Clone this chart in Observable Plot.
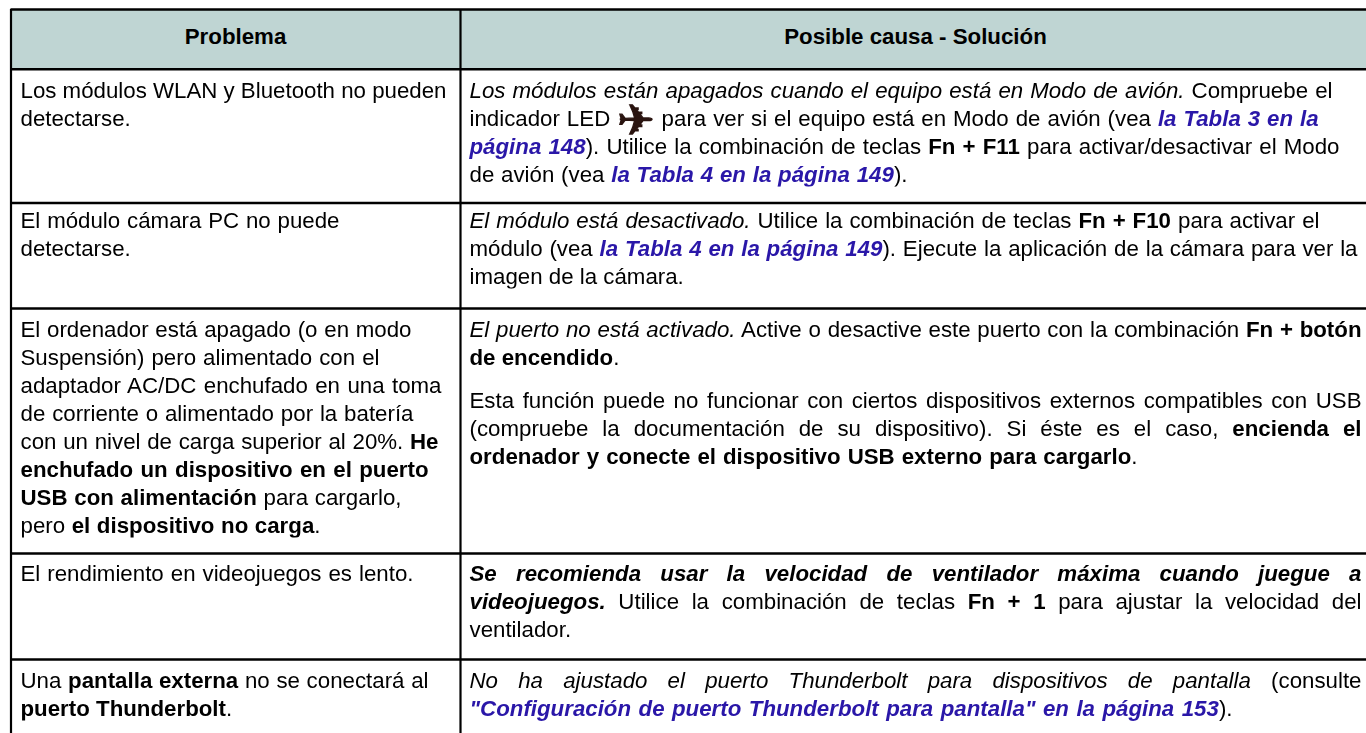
<!DOCTYPE html>
<html><head><meta charset="utf-8">
<script src="https://cdn.jsdelivr.net/npm/d3@7"></script>
<script src="https://cdn.jsdelivr.net/npm/@observablehq/plot@0.6"></script>
<style>html,body{margin:0;padding:0;background:#fff;overflow:hidden} svg{filter:blur(0.35px)}</style>
</head><body><div id="c"></div>
<script>
const headers = ["Problema", "Posible causa - Solución"];
const rowEdges = [9, 68.7, 202.5, 308, 553, 659];
const columnEdges = [10.5, 460];
const firstBaselines = [97, 227, 336, 580, 687];
const lineStep = 28;

// [row, line slot, right end of the line as read (0 = natural), runs...]; run = [style, text]
const problemLines = [
  [0, 0, 446, ["n","Los módulos WLAN y Bluetooth no pueden"]],
  [0, 1, 0, ["n","detectarse."]],
  [1, 0, 339, ["n","El módulo cámara PC no puede"]],
  [1, 1, 0, ["n","detectarse."]],
  [2, 0, 411, ["n","El ordenador está apagado (o en modo"]],
  [2, 1, 379, ["n","Suspensión) pero alimentado con el"]],
  [2, 2, 441, ["n","adaptador AC/DC enchufado en una toma"]],
  [2, 3, 413, ["n","de corriente o alimentado por la batería"]],
  [2, 4, 438, ["n","con un nivel de carga superior al 20%. "],["b","He"]],
  [2, 5, 428, ["b","enchufado un dispositivo en el puerto"]],
  [2, 6, 401, ["b","USB con alimentación"],["n"," para cargarlo,"]],
  [2, 7, 320, ["n","pero "],["b","el dispositivo no carga"],["n","."]],
  [3, 0, 413, ["n","El rendimiento en videojuegos es lento."]],
  [4, 0, 428, ["n","Una "],["b","pantalla externa"],["n"," no se conectará al"]],
  [4, 1, 0, ["b","puerto Thunderbolt"],["n","."]]
];
const solutionLines = [
  [0, 0, 1332, ["i","Los módulos están apagados cuando el equipo está en Modo de avión."],["n"," Compruebe el"]],
  [0, 1, 1318, ["n","indicador LED "],["p","✈"],["n"," para ver si el equipo está en Modo de avión (vea "],["l","la Tabla 3 en la"]],
  [0, 2, 1339, ["l","página 148"],["n","). Utilice la combinación de teclas "],["b","Fn + F11"],["n"," para activar/desactivar el Modo"]],
  [0, 3, 907, ["n","de avión (vea "],["l","la Tabla 4 en la página 149"],["n",")."]],
  [1, 0, 1319, ["i","El módulo está desactivado."],["n"," Utilice la combinación de teclas "],["b","Fn + F10"],["n"," para activar el"]],
  [1, 1, 1357, ["n","módulo (vea "],["l","la Tabla 4 en la página 149"],["n","). Ejecute la aplicación de la cámara para ver la"]],
  [1, 2, 0, ["n","imagen de la cámara."]],
  [2, 0, 1361, ["i","El puerto no está activado."],["n"," Active o desactive este puerto con la combinación "],["b","Fn + botón"]],
  [2, 1, 0, ["b","de encendido"],["n","."]],
  [2, 2.55, 1361, ["n","Esta función puede no funcionar con ciertos dispositivos externos compatibles con USB"]],
  [2, 3.55, 1361, ["n","(compruebe la documentación de su dispositivo). Si éste es el caso, "],["b","encienda el"]],
  [2, 4.55, 1137, ["b","ordenador y conecte el dispositivo USB externo para cargarlo"],["n","."]],
  [3, 0, 1361, ["bi","Se recomienda usar la velocidad de ventilador máxima cuando juegue a"]],
  [3, 1, 1361, ["bi","videojuegos."],["n"," Utilice la combinación de teclas "],["b","Fn + 1"],["n"," para ajustar la velocidad del"]],
  [3, 2, 0, ["n","ventilador."]],
  [4, 0, 1361, ["i","No ha ajustado el puerto Thunderbolt para dispositivos de pantalla"],["n"," (consulte"]],
  [4, 1, 1232, ["l","\"Configuración de puerto Thunderbolt para pantalla\" en la página 153"],["n",")."]]
];

const headFill = "#bfd5d3", ink = "#000", linkInk = "#2a17a8", planeInk = "#2a1410";
const fontSize = 21.5, stretch = 1.037, textLeft = [20, 469];
const planeSize = 43, planeAdvance = 36, planeExtra = 6, planeDrop = 9;
const styles = {
  n:{}, i:{"font-style":"italic"}, b:{"font-weight":"700"},
  bi:{"font-weight":"700","font-style":"italic"},
  l:{"font-weight":"700","font-style":"italic",fill:linkInk},
  p:{"font-family":"DejaVu Sans","font-size":planeSize+"px",fill:planeInk,stroke:planeInk,"stroke-width":"1.3"}
};
const body = (list, col) => list.map(([row, slot, end, ...runs]) => ({
  x: textLeft[col], y: firstBaselines[row] + slot * lineStep, end, runs,
  label: runs.map(r => r[1]).join("")
}));
const lines = [...body(problemLines, 0), ...body(solutionLines, 1)];
const heads = headers.map((h, i) => ({label: h, x: [235, 915][i], y: 43}));

const plot = Plot.plot({
  width: 1366, height: 733, margin: 0,
  x: {domain: [0, 1366], range: [0, 1366], axis: null},
  y: {domain: [0, 733], range: [0, 733], axis: null},
  marks: [
    Plot.rect([0], {x1: columnEdges[0], x2: 1366, y1: rowEdges[0], y2: rowEdges[1], fill: headFill}),
    Plot.ruleY(rowEdges, {x1: columnEdges[0], x2: 1366, stroke: "#000", strokeWidth: 2.4}),
    Plot.ruleX(columnEdges, {y1: rowEdges[0], y2: 733, stroke: "#000", strokeWidth: 2.2}),
    Plot.text(heads, {x: "x", y: "y", text: "label", textAnchor: "middle", lineAnchor: "bottom",
      fontFamily: "Liberation Sans", fontSize: fontSize, fontWeight: 700, fill: ink}),
    Plot.text(lines, {x: "x", y: "y", text: "label", textAnchor: "start", lineAnchor: "bottom",
      fontFamily: "Liberation Sans", fontSize: fontSize, fill: ink})
  ]
});
document.getElementById("c").appendChild(plot);

const groups = plot.querySelectorAll('g[aria-label="text"]');
groups[0].querySelectorAll("text").forEach(t => {
  t.setAttribute("transform", t.getAttribute("transform") + ` scale(${stretch},1)`);
});
groups[1].querySelectorAll("text").forEach((t, i) => {
  const d = lines[i];
  t.textContent = "";
  t.setAttribute("xml:space", "preserve");
  let afterPlane = 0;
  for (const [s, txt] of d.runs) {
    const sp = document.createElementNS("http://www.w3.org/2000/svg", "tspan");
    for (const [k, v] of Object.entries(styles[s])) sp.setAttribute(k, v);
    sp.setAttribute("xml:space", "preserve");
    sp.textContent = txt;
    t.appendChild(sp);
    if (s === "p") {
      sp.setAttribute("dy", planeDrop);
      afterPlane = sp.getComputedTextLength() * (1 - planeAdvance / planeSize) - planeExtra;
    } else if (afterPlane) {
      sp.setAttribute("dy", -planeDrop);
      sp.setAttribute("dx", -afterPlane);
      afterPlane = 0;
    }
  }
  t.setAttribute("transform", t.getAttribute("transform") + ` scale(${stretch},1)`);
  if (d.end) {
    const natural = t.getComputedTextLength();
    const gaps = d.label.split(" ").length - 1;
    const target = (d.end - d.x) / stretch;
    t.style.wordSpacing = ((target - natural) / gaps) + "px";
  }
});
</script></body></html>
